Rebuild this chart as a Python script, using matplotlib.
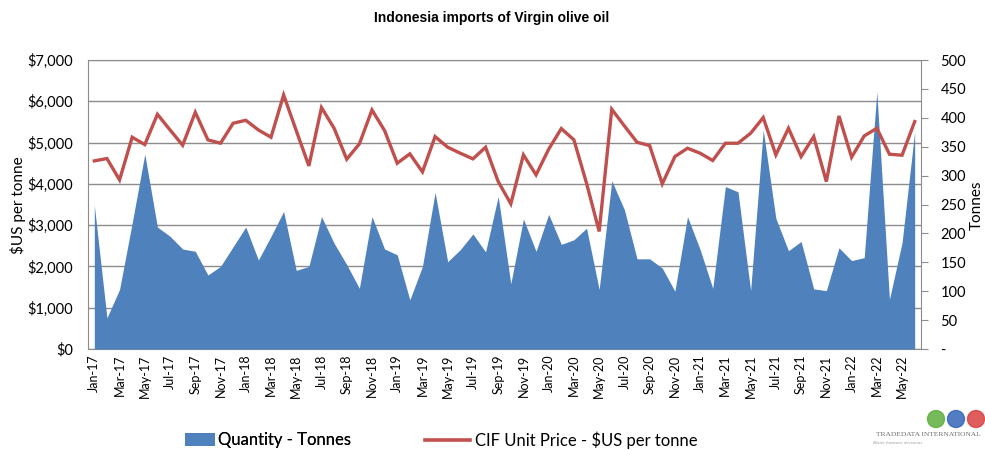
import matplotlib
matplotlib.use("Agg")
import matplotlib.pyplot as plt
from matplotlib.patches import Ellipse, Patch
from matplotlib.lines import Line2D
from matplotlib.ticker import FuncFormatter, MultipleLocator
import numpy as np
import pandas as pd

# monthly categories Jan-17 .. Jun-22
months = pd.date_range("2017-01-01", "2022-06-01", freq="MS").strftime("%b-%y").tolist()

# CIF unit price, $US per tonne (left axis)
unit_price = [
    4556, 4613, 4097, 5129, 4952, 5685, 5306, 4935, 5734, 5065, 4984, 5468,
    5540, 5306, 5129, 6153, 5290, 4435, 5847, 5347, 4597, 4968, 5790, 5290,
    4500, 4726, 4290, 5145, 4887, 4742, 4605, 4887, 4056, 3516, 4702, 4218,
    4839, 5339, 5065, 4016, 2847, 5806, 5403, 5008, 4927, 4000, 4661, 4863,
    4742, 4565, 4984, 4984, 5226, 5605, 4702, 5347, 4661, 5145, 4056, 5645,
    4645, 5161, 5347, 4718, 4694, 5508,
]

# quantity, tonnes (right axis)
quantity = [
    249, 54, 103, 218, 337, 211, 195, 173, 169, 128, 143, 177,
    211, 154, 195, 238, 136, 143, 229, 183, 146, 105, 229, 173,
    163, 85, 143, 271, 151, 172, 199, 168, 264, 113, 225, 169,
    233, 181, 189, 209, 103, 291, 241, 156, 156, 140, 100, 229,
    172, 105, 281, 272, 101, 379, 226, 170, 186, 104, 101, 175,
    153, 158, 445, 86, 184, 376,
]

BLUE = "#4F81BD"
RED = "#C0504D"
GRID = "#8C8C8C"
FONT = "Lato"

W, H = 985, 450
fig = plt.figure(figsize=(W / 100, H / 100), dpi=100)
rect = [88 / W, 1 - 349 / H, (921 - 88) / W, (349 - 60) / H]

x = np.arange(len(months))

# base axes: left scale + gridlines
ax = fig.add_axes(rect)
ax.set_zorder(1)
ax.set_xlim(-0.5, len(months) - 0.5)
ax.set_ylim(0, 7000)
ax.yaxis.set_major_locator(MultipleLocator(1000))
ax.yaxis.set_major_formatter(FuncFormatter(lambda v, p: f"${v:,.0f}"))
ax.grid(axis="y", color=GRID, linewidth=1.0)
ax.set_axisbelow(True)
ax.set_xticks(x[::2])
ax.set_xticklabels(months[::2], rotation=90, fontsize=9, family=FONT)
ax.tick_params(axis="x", length=0, pad=4)
ax.tick_params(axis="y", length=0, pad=11, labelsize=10.5)
for lbl in ax.get_yticklabels():
    lbl.set_family(FONT)
for s in ax.spines.values():
    s.set_color(GRID)
ax.spines["right"].set_visible(False)

# right axis: quantity area
axq = ax.twinx()
axq.set_zorder(2)
axq.patch.set_visible(False)
axq.fill_between(x, quantity, 0, color=BLUE, linewidth=0)
axq.set_ylim(0, 500)
axq.yaxis.set_major_locator(MultipleLocator(50))
axq.yaxis.set_major_formatter(FuncFormatter(lambda v, p: "-" if v == 0 else f"{v:.0f}"))
axq.tick_params(axis="y", direction="out", length=5, color=GRID, pad=9, labelsize=10.5)
for lbl in axq.get_yticklabels():
    lbl.set_family(FONT)
for s in axq.spines.values():
    s.set_visible(False)
axq.spines["right"].set_visible(True)
axq.spines["right"].set_color(GRID)

# line on top, sharing left scale
axl = fig.add_axes(rect, sharex=ax, sharey=ax)
axl.set_zorder(3)
axl.patch.set_visible(False)
axl.axis("off")
axl.plot(x, unit_price, color=RED, linewidth=2.4, solid_joinstyle="miter")

fig.text(492 / W, 1 - 18 / H, "Indonesia imports of Virgin olive oil",
         ha="center", va="center", fontsize=10, fontweight="bold",
         family="Liberation Sans")
fig.text(18 / W, 1 - 205 / H, "$US per tonne", rotation=90, ha="center",
         va="center", fontsize=11, family=FONT)
fig.text(977 / W, 1 - 205 / H, "Tonnes", rotation=90, ha="center",
         va="center", fontsize=11, family=FONT)

# legend entries placed separately, as in the reference
leg_q = fig.legend([Patch(facecolor=BLUE, edgecolor="none")], ["Quantity - Tonnes"],
                   loc="center left", bbox_to_anchor=(185 / W, 1 - 440 / H),
                   frameon=False, prop={"family": FONT, "size": 12},
                   handlelength=1.8, handleheight=0.8, handletextpad=0.2,
                   borderpad=0, borderaxespad=0)
fig.legend([Line2D([0], [0], color=RED, linewidth=2.6)],
           ["CIF Unit Price - $US per tonne"],
           loc="center left", bbox_to_anchor=(425 / W, 1 - 440 / H),
           frameon=False, prop={"family": FONT, "size": 12},
           handlelength=2.7, handletextpad=0.3, borderpad=0, borderaxespad=0)
fig.add_artist(leg_q)

# logo
for cx, col in [(936, "#5FAE3E"), (956, "#3466B8"), (976, "#D94040")]:
    fig.patches.append(Ellipse((cx / W, 1 - 419 / H), 17 / W, 17 / H,
                               color=col, alpha=0.85,
                               transform=fig.transFigure, figure=fig))
fig.text(928 / W, 1 - 434 / H, "TRADEDATA INTERNATIONAL", ha="center",
         va="center", fontsize=5.4, color="#6E6E6E", family="Liberation Serif")
fig.text(873 / W, 1 - 443 / H, "Better business decisions", ha="left",
         va="center", fontsize=3.5, color="#9A9A9A", family="Liberation Serif",
         style="italic")

fig.savefig("out.png", dpi=100)
